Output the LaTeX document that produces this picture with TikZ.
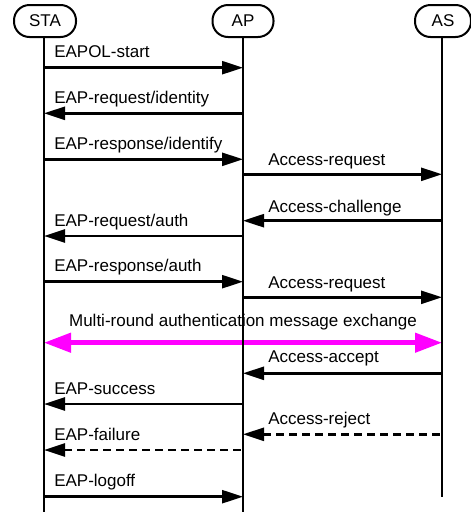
\documentclass[tikz,border=0pt]{standalone}
\usepackage{fontspec}
\setmainfont{Liberation Sans}
\usetikzlibrary{arrows.meta,positioning}
\definecolor{exchange}{RGB}{255,0,255}

\begin{document}
\begin{tikzpicture}[
    x=1pt, y=-1pt,
    font=\fontsize{17}{20}\selectfont,
    >={Triangle[length=21pt, width=13pt]},
    actor/.style={rectangle, draw, line width=2pt, rounded corners=15.5pt, minimum height=32pt, inner sep=0pt},
    life/.style={line width=2.3pt},
    msg/.style={line width=2.5pt},
    fail/.style={line width=2.5pt, dash pattern=on 8pt off 5pt},
    round/.style={line width=4.5pt, draw=exchange, arrows={Triangle[length=27pt, width=19pt]-Triangle[length=27pt, width=19pt]}},
    stalbl/.style={pos=0, anchor=base west, inner sep=0pt, xshift=9pt, yshift=10pt},
    aplbl/.style={pos=0, anchor=base west, inner sep=0pt, xshift=24pt, yshift=9pt}
]
\useasboundingbox (0,0) rectangle (471,512);

% Actors
\node[actor, minimum width=62pt] (sta) at (45,21) {STA};
\node[actor, minimum width=61pt] (ap) at (243,21) {AP};
\node[actor, minimum width=56pt] (as) at (443,21) {AS};

% Lifeline ends
\coordinate (sta-end) at (44,512);
\coordinate (ap-end) at (243,512);
\coordinate (as-end) at (442,497);

% Message rows
\foreach \n/\y in {1/67.7, 2/113.3, 3/159.3, 4/174.3, 5/220.7, 6/236, 7/281.7,
                   8/297.3, 9/342.7, 10/373.3, 11/404, 12/434.3, 13/450, 14/496.7}
    \coordinate (r\n) at (0,\y);

% STA <-> AP
\draw[msg, ->] (sta-end |- r1) -- node[stalbl] {EAPOL-start} (ap-end |- r1);
\draw[msg, <-] (sta-end |- r2) -- node[stalbl] {EAP-request/identity} (ap-end |- r2);
\draw[msg, ->] (sta-end |- r3) -- node[stalbl] {EAP-response/identify} (ap-end |- r3);
\draw[msg, <-] (sta-end |- r6) -- node[stalbl] {EAP-request/auth} (ap-end |- r6);
\draw[msg, ->] (sta-end |- r7) -- node[stalbl] {EAP-response/auth} (ap-end |- r7);
\draw[msg, <-] (sta-end |- r11) -- node[stalbl] {EAP-success} (ap-end |- r11);
\draw[fail, <-] (sta-end |- r13) -- node[stalbl] {EAP-failure} (ap-end |- r13);
\draw[msg, ->] (sta-end |- r14) -- node[stalbl] {EAP-logoff} (ap-end |- r14);

% AP <-> AS
\draw[msg, ->] (ap-end |- r4) -- node[aplbl] {Access-request} (as-end |- r4);
\draw[msg, <-] (ap-end |- r5) -- node[aplbl, yshift=-1pt] {Access-challenge} (as-end |- r5);
\draw[msg, ->] (ap-end |- r8) -- node[aplbl] {Access-request} (as-end |- r8);
\draw[msg, <-] (ap-end |- r10) -- node[aplbl, yshift=2pt] {Access-accept} (as-end |- r10);
\draw[fail, <-] (ap-end |- r12) -- node[aplbl, yshift=1pt] {Access-reject} (as-end |- r12);

% Multi-round exchange
\draw[round] (sta-end |- r9) -- node[midway, anchor=base, inner sep=0pt, yshift=16pt] {Multi-round authentication message exchange} (as-end |- r9);

% Lifelines
\draw[life] (sta.south -| sta-end) -- (sta-end);
\draw[life] (ap.south) -- (ap-end);
\draw[life] (as.south -| as-end) -- (as-end);

\end{tikzpicture}
\end{document}
